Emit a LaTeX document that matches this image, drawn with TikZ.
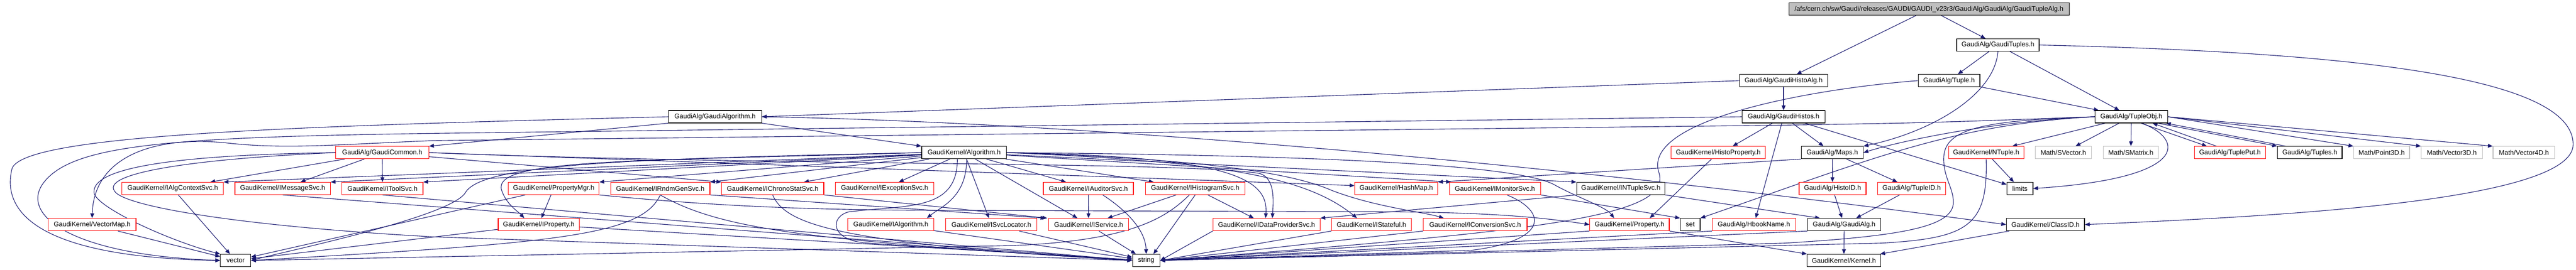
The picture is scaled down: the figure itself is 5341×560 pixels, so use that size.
\documentclass[tikz,border=0pt]{standalone}
\usepackage{fontspec}
\setmainfont{Liberation Sans}
\usetikzlibrary{arrows.meta}
\pgfdeclarelayer{bg}
\pgfsetlayers{bg,main}
\definecolor{edgec}{HTML}{191970}
\definecolor{graybox}{HTML}{BFBFBF}
\begin{document}
\begin{tikzpicture}[x=1pt,y=-1pt,
  dbox/.style={draw, line width=1.3pt, minimum height=25.5pt, inner sep=0pt, fill=white, font=\fontsize{13.9pt}{16pt}\selectfont},
  rbox/.style={dbox, draw=red},
  kbox/.style={dbox, draw=black},
  gbox/.style={dbox, draw=graybox},
  rootbox/.style={dbox, draw=black, fill=graybox},
  lnk/.style={draw=edgec, line width=1.2pt, -{Triangle[length=10pt,width=8pt]}},
]
\useasboundingbox (0,0) rectangle (5341,560);
% ---------- nodes ----------
\node[rootbox, minimum width=581pt] (root) at (3999.5,19) {/afs/cern.ch/sw/Gaudi/releases/GAUDI/GAUDI\_v23r3/GaudiAlg/GaudiAlg/GaudiTupleAlg.h};
\node[kbox, minimum width=171pt] (GT) at (4142.5,93.5) {GaudiAlg/GaudiTuples.h};
\node[kbox, minimum width=182pt] (GHA) at (3698,167.5) {GaudiAlg/GaudiHistoAlg.h};
\node[kbox, minimum width=128pt] (Tuple) at (4041,167.5) {GaudiAlg/Tuple.h};
\node[kbox, minimum width=193pt] (GA) at (1482.5,242.5) {GaudiAlg/GaudiAlgorithm.h};
\node[kbox, minimum width=172pt] (GH) at (3698,242.5) {GaudiAlg/GaudiHistos.h};
\node[kbox, minimum width=150pt] (TO) at (4419,242.5) {GaudiAlg/TupleObj.h};
\node[rbox, minimum width=193pt] (GC) at (792.5,317) {GaudiAlg/GaudiCommon.h};
\node[kbox, minimum width=176pt] (Alg) at (1999,317) {GaudiKernel/Algorithm.h};
\node[rbox, minimum width=195pt] (HP) at (3562.5,317) {GaudiKernel/HistoProperty.h};
\node[kbox, minimum width=128pt] (Maps) at (3799,317) {GaudiAlg/Maps.h};
\node[rbox, minimum width=156pt] (NTuple) at (4118,317) {GaudiKernel/NTuple.h};
\node[gbox, minimum width=116pt] (SVector) at (4278,317) {Math/SVector.h};
\node[gbox, minimum width=114pt] (SMatrix) at (4418,317) {Math/SMatrix.h};
\node[rbox, minimum width=147pt] (TuplePut) at (4623.5,317) {GaudiAlg/TuplePut.h};
\node[kbox, minimum width=134pt] (Tuples) at (4789,317) {GaudiAlg/Tuples.h};
\node[gbox, minimum width=116pt] (Point3D) at (4938,317) {Math/Point3D.h};
\node[gbox, minimum width=127pt] (Vector3D) at (5083.5,317) {Math/Vector3D.h};
\node[gbox, minimum width=128pt] (Vector4D) at (5233,317) {Math/Vector4D.h};
\node[rbox, minimum width=210pt] (IACS) at (358,391.5) {GaudiKernel/IAlgContextSvc.h};
\node[rbox, minimum width=198pt] (IMS) at (586,391.5) {GaudiKernel/IMessageSvc.h};
\node[rbox, minimum width=168pt] (ITS) at (793,391.5) {GaudiKernel/IToolSvc.h};
\node[rbox, minimum width=188pt] (PMgr) at (1148,391.5) {GaudiKernel/PropertyMgr.h};
\node[rbox, minimum width=206pt] (IRGS) at (1369,391.5) {GaudiKernel/IRndmGenSvc.h};
\node[rbox, minimum width=212pt] (ICSS) at (1602,391.5) {GaudiKernel/IChronoStatSvc.h};
\node[rbox, minimum width=204pt] (IES) at (1834,391.5) {GaudiKernel/IExceptionSvc.h};
\node[rbox, minimum width=187pt] (IAud) at (2256.5,391.5) {GaudiKernel/IAuditorSvc.h};
\node[rbox, minimum width=206pt] (IHS) at (2478,391.5) {GaudiKernel/IHistogramSvc.h};
\node[rbox, minimum width=172pt] (HashMap) at (2895,391.5) {GaudiKernel/HashMap.h};
\node[rbox, minimum width=189pt] (IMon) at (3099.5,391.5) {GaudiKernel/IMonitorSvc.h};
\node[kbox, minimum width=183pt] (INT) at (3360.5,391.5) {GaudiKernel/INTupleSvc.h};
\node[rbox, minimum width=139pt] (HistoID) at (3799.5,391.5) {GaudiAlg/HistoID.h};
\node[rbox, minimum width=141pt] (TupleID) at (3963.5,391.5) {GaudiAlg/TupleID.h};
\node[kbox, minimum width=54pt] (limits) at (4188,391.5) {limits};
\node[rbox, minimum width=182pt] (VM) at (191,466.5) {GaudiKernel/VectorMap.h};
\node[rbox, minimum width=168pt] (IProp) at (1117,466.5) {GaudiKernel/IProperty.h};
\node[rbox, minimum width=178pt] (IAlg) at (1847,466.5) {GaudiKernel/IAlgorithm.h};
\node[rbox, minimum width=189pt] (ISL) at (2055.5,466.5) {GaudiKernel/ISvcLocator.h};
\node[rbox, minimum width=166pt] (IServ) at (2257,466.5) {GaudiKernel/IService.h};
\node[rbox, minimum width=222pt] (IDP) at (2626,466.5) {GaudiKernel/IDataProviderSvc.h};
\node[rbox, minimum width=165pt] (IStat) at (2843.5,466.5) {GaudiKernel/IStateful.h};
\node[rbox, minimum width=215pt] (IConv) at (3058.5,466.5) {GaudiKernel/IConversionSvc.h};
\node[rbox, minimum width=165pt] (Prop) at (3378.5,466.5) {GaudiKernel/Property.h};
\node[kbox, minimum width=41pt] (setn) at (3504.5,466.5) {set};
\node[rbox, minimum width=173pt] (Hbook) at (3636.5,466.5) {GaudiAlg/HbookName.h};
\node[kbox, minimum width=151pt] (GAlg) at (3823.5,466.5) {GaudiAlg/GaudiAlg.h};
\node[kbox, minimum width=162pt] (ClassID) at (4241,466.5) {GaudiKernel/ClassID.h};
\node[kbox, minimum width=63pt] (vec) at (488.5,541) {vector};
\node[kbox, minimum width=57pt] (str) at (2376.5,541) {string};
\node[kbox, minimum width=152pt] (Kernel) at (3823,541) {GaudiKernel/Kernel.h};
% ---------- edges ----------
\begin{pgfonlayer}{bg}
\draw[lnk] (root) -- (GHA);
\draw[lnk] (root) -- (GT);
\draw[lnk] (GT) -- (Tuple);
\draw[lnk] (GT) -- (TO);
\draw[lnk] (GT.south) .. controls (4135,200) and (4000,275) .. (Maps.north east);
\draw[lnk] (GT.east) .. controls (4950,110) and (5335,170) .. (5335,300) .. controls (5335,420) and (4700,450) .. (ClassID.east);
\draw[lnk] (GHA) -- (GH);
\draw[lnk] (GHA.west) -- (GA.east);
\draw[lnk] (Tuple) -- (TO);
\draw[lnk] (Tuple.west) .. controls (3750,185) and (3400,250) .. (3440,360) .. controls (3465,450) and (3200,480) .. (str.east);
% GaudiHistos
\draw[lnk] (GH) -- ([xshift=30pt]HP.north);
\draw[lnk] (GH) -- (Maps);
\draw[lnk] (GH) -- (limits);
\draw[lnk] (GH) -- (Hbook);
\draw[lnk] (GH.west) -- (900,277) .. controls (350,285) and (150,300) .. (90,380) .. controls (40,447) and (150,530) .. (vec.west);
% GaudiAlgorithm
\draw[lnk] (GA.south west) -- (GC.north east);
\draw[lnk] (GA.south east) -- (Alg.north west);
\draw[lnk] (GA.west) .. controls (600,262) and (50,280) .. (25,350) .. controls (0,450) and (100,535) .. (vec.west);
\draw[lnk] (GA.east) .. controls (2300,255) and (3300,350) .. (ClassID.west);
% Algorithm
\draw[lnk] (Alg) -- (IACS.north east);
\draw[lnk] (Alg) -- (IMS.north east);
\draw[lnk] (Alg) -- (ITS.north east);
\draw[lnk] (Alg) -- (PMgr.north east);
\draw[lnk] (Alg) -- (IRGS.north east);
\draw[lnk] (Alg) -- ([xshift=65pt]ICSS.north);
\draw[lnk] (Alg) -- (IES);
\draw[lnk] (Alg) -- (IAud);
\draw[lnk] (Alg) -- (IHS);
\draw[lnk] (Alg) -- (ISL);
\draw[lnk] (Alg) -- (IServ);
\draw[lnk] ([xshift=5pt]Alg.south) .. controls (2005,410) and (1950,430) .. ([xshift=75pt]IAlg.north);
\draw[lnk] ([xshift=-14pt]Alg.south) .. controls (1985,440) and (1880,425) .. (1760,440) .. controls (1720,450) and (1720,500) .. (1800,505) -- (str.west);
\draw[lnk] (Alg.west) .. controls (1300,335) and (1020,330) .. (1040,395) .. controls (1050,425) and (1075,440) .. ([xshift=-30pt]IProp.north);
\draw[lnk] (Alg.west) .. controls (1300,330) and (1000,340) .. (965,400) .. controls (935,450) and (600,520) .. (vec.east);
\draw[lnk] (Alg.east) .. controls (2550,325) and (2630,370) .. ([xshift=-2pt]IDP.north);
\draw[lnk] (Alg.east) .. controls (2500,335) and (2700,360) .. ([xshift=-30pt]IStat.north);
\draw[lnk] (Alg.east) .. controls (2500,330) and (2680,360) .. (2760,395) .. controls (2850,430) and (2950,440) .. ([xshift=-65pt]IConv.north);
\draw[lnk] (Alg) -- ([xshift=4pt]IMon.north west);
\draw[lnk] (Alg) -- (INT.north west);
\draw[lnk] (Alg.east) .. controls (2700,322) and (3150,340) .. (3225,385) .. controls (3270,410) and (3330,430) .. ([xshift=-32pt]Prop.north);
% GaudiCommon
\draw[lnk] (GC) -- (IACS);
\draw[lnk] (GC) -- (IMS);
\draw[lnk] (GC) -- (ITS);
\draw[lnk] (GC) -- (ICSS.north west);
\draw[lnk] (GC.east) -- ([yshift=6pt]HashMap.west);
\draw[lnk] (GC.east) .. controls (1600,345) and (2450,335) .. (2610,360) .. controls (2645,368) and (2640,420) .. ([xshift=12pt]IDP.north);
\draw[lnk] (GC.west) .. controls (350,322) and (190,350) .. (195,400) .. controls (198,430) and (350,500) .. (vec.north west);
\draw[lnk] (GC.west) .. controls (400,330) and (200,360) .. (240,400) .. controls (270,430) and (500,470) .. (900,492) -- (str.west);
% row F / G sources
\draw[lnk] (PMgr) -- (IProp);
\draw[lnk] (PMgr) -- (vec);
\draw[lnk] (PMgr.south east) .. controls (1500,430) and (1700,437) .. (2000,437) -- (2900,440) .. controls (3100,442) and (3200,452) .. (Prop.west);
\draw[lnk] (IACS) -- (vec);
\draw[lnk] (VM) -- (vec);
\draw[lnk] (IMS.south) -- (str.west);
\draw[lnk] (ITS.south) -- (str.west);
\draw[lnk] (IProp) -- (vec);
\draw[lnk] (IProp) -- (str);
\draw[lnk] (IRGS.south) .. controls (1330,490) and (1150,505) .. (vec.east);
\draw[lnk] (IRGS.south) .. controls (1500,480) and (1700,500) .. (str.west);
\draw[lnk] (IRGS.south east) -- ([xshift=-6pt]IServ.north west);
\draw[lnk] (ICSS.south) .. controls (1630,470) and (1750,505) .. (str.west);
\draw[lnk] (ICSS.south east) -- ([xshift=-2pt]IServ.north west);
\draw[lnk] (IAlg) -- (str);
\draw[lnk] (ISL) -- (str);
\draw[lnk] (IServ) -- (str);
\draw[lnk] (IAud) -- (IServ);
\draw[lnk] ([xshift=30pt]IAud.south) .. controls (2340,440) and (2375,480) .. (str.north);
\draw[lnk] (IHS) -- (IServ);
\draw[lnk] (IHS) -- (IDP);
\draw[lnk] (IHS.south) -- ([xshift=15pt]str.north);
\draw[lnk] ([xshift=-12pt]IHS.south) .. controls (2420,450) and (2350,500) .. (2100,510) -- (vec.east);
\draw[lnk] (IDP.south west) -- (str.east);
\draw[lnk] (IStat.south west) -- (str.east);
\draw[lnk] (IConv.south west) -- (str.east);
\draw[lnk] ([xshift=25pt]IMon.south) .. controls (3210,440) and (3210,500) .. (3050,520) -- (str.east);
\draw[lnk] (IMon.south east) -- (setn.north west);
\draw[lnk] (INT.south west) -- (IDP.north east);
\draw[lnk] (INT.south east) -- ([xshift=-50pt]GAlg.north);
\draw[lnk] (Prop.south west) -- (str.east);
\draw[lnk] (Prop.south east) -- (Kernel.north west);
\draw[lnk] (HP) -- ([xshift=42pt]Prop.north);
\draw[lnk] (Hbook.south west) -- (str.east);
\draw[lnk] (GAlg.south west) -- (str.east);
\draw[lnk] (GAlg) -- (Kernel);
\draw[lnk] (HistoID) -- (GAlg);
\draw[lnk] (TupleID) -- (GAlg);
\draw[lnk] (ClassID) -- (Kernel);
\draw[lnk] (Maps) -- (HistoID);
\draw[lnk] (Maps) -- (TupleID);
\draw[lnk] (Maps.south west) -- (HashMap.north east);
\draw[lnk] (NTuple) -- (limits);
\draw[lnk] (NTuple.south) .. controls (4122,470) and (4080,495) .. (3900,505) -- (str.east);
% TupleObj
\draw[lnk] (TO) -- (NTuple);
\draw[lnk] (TO) -- (SVector);
\draw[lnk] (TO) -- (SMatrix);
\draw[lnk] ([xshift=22pt]TO.south) .. controls (4530,290) and (4540,370) .. (limits.east);
\draw[lnk] ([xshift=20pt]TO.south) -- ([xshift=-48pt]TuplePut.north);
\draw[lnk] ([xshift=-28pt]TuplePut.north) -- ([xshift=44pt]TO.south);
\draw[lnk] ([xshift=55pt]TO.south) -- (Tuples.north west);
\draw[lnk] ([xshift=-50pt]Tuples.north) -- ([xshift=72pt]TO.south);
\draw[lnk] (TO.east) -- (Point3D.north west);
\draw[lnk] (TO.east) -- (Vector3D.north west);
\draw[lnk] (TO.east) -- (Vector4D.north west);
\draw[lnk] (TO.west) .. controls (4150,250) and (3950,290) .. (Maps.east);
\draw[lnk] (TO.west) .. controls (4050,258) and (3880,330) .. (setn.north east);
\draw[lnk] (TO.west) .. controls (4100,250) and (4030,270) .. (4030,330) .. controls (4030,370) and (4050,390) .. (4050,420) .. controls (4050,470) and (3950,490) .. (3700,505) -- (str.east);
\draw[lnk] (TO.west) .. controls (4000,255) .. (3700,260) -- (900,292) .. controls (700,300) and (600,310) .. (480,298) .. controls (330,280) and (195,320) .. (VM.north);
\end{pgfonlayer}
\end{tikzpicture}
\end{document}
